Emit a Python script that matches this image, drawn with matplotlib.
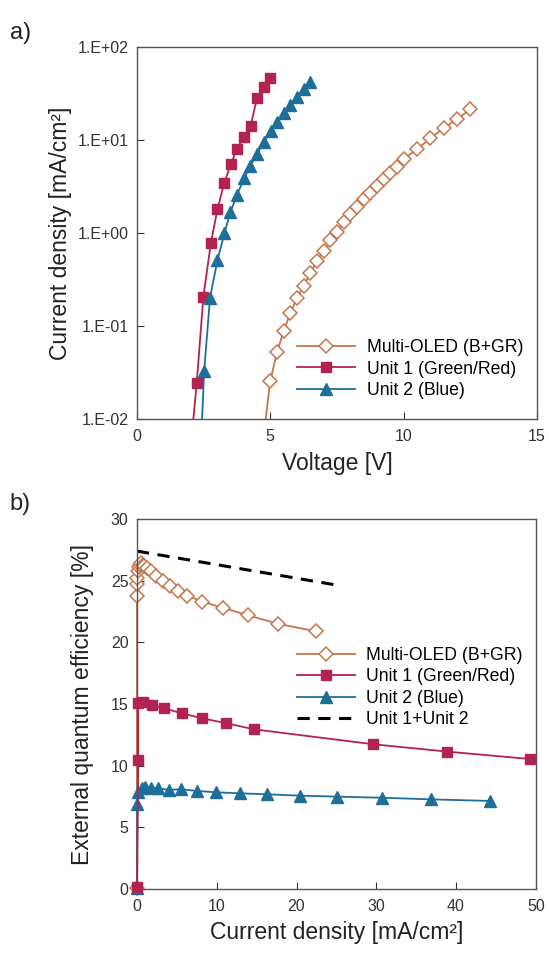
import matplotlib.pyplot as plt
from matplotlib.ticker import FuncFormatter, FixedLocator
import numpy as np

plt.rcParams['font.family'] = ['Liberation Sans', 'DejaVu Sans']

# colours
c_multi = '#c4764c'
c_unit1 = '#b3234f'
c_unit2 = '#1d6f99'
c_spine = '#555555'

# a) J-V data  (voltage [V], current density [mA/cm2])
v_multi = [4.7, 5.0, 5.25, 5.5, 5.75, 6.0, 6.25, 6.5, 6.75, 7.0, 7.25, 7.5, 7.75, 8.0, 8.25,
           8.5, 8.75, 9.0, 9.25, 9.5, 9.75, 10.0, 10.5, 11.0, 11.5, 12.0, 12.5]
j_multi = [0.005, 0.0256, 0.052, 0.088, 0.137, 0.201, 0.271, 0.368, 0.50, 0.645, 0.84, 1.03,
           1.30, 1.60, 1.92, 2.30, 2.71, 3.23, 3.81, 4.45, 5.16, 6.2, 7.94, 10.4, 13.4, 16.7, 21.4]
v_unit1 = [2.0, 2.24, 2.49, 2.77, 3.02, 3.27, 3.52, 3.75, 4.0, 4.26, 4.5, 4.75, 5.0]
j_unit1 = [0.0045, 0.0242, 0.206, 0.775, 1.81, 3.42, 5.48, 8.0, 10.8, 14.1, 28.0, 36.9, 46.8]
v_unit2 = [2.38, 2.52, 2.74, 3.02, 3.28, 3.5, 3.75, 4.02, 4.25, 4.5, 4.77, 5.03, 5.25,
           5.5, 5.75, 6.0, 6.25, 6.5]
j_unit2 = [0.004, 0.0328, 0.201, 0.513, 0.99, 1.67, 2.56, 3.88, 5.25, 7.07, 9.6, 12.6, 15.7,
           19.7, 23.8, 28.8, 35.0, 42.4]

# b) EQE data (current density [mA/cm2], EQE [%])
jb_multi = [0.0, 0.0, 0.02, 0.05, 0.1, 0.2, 0.35, 0.5, 0.7, 0.9, 1.2, 1.7, 2.4, 3.2, 4.1,
            5.1, 6.3, 8.2, 10.8, 13.9, 17.7, 22.4]
eqe_multi = [0.1, 23.8, 24.7, 25.2, 25.8, 26.1, 26.3, 26.4, 26.3, 26.2, 26.0, 25.8, 25.4,
             25.0, 24.6, 24.2, 23.8, 23.3, 22.8, 22.2, 21.5, 20.9]
jb_unit1 = [0.0, 0.16, 0.16, 0.8, 1.84, 3.41, 5.59, 8.21, 11.2, 14.66, 29.6, 38.9, 49.3]
eqe_unit1 = [0.2, 10.5, 15.06, 15.19, 14.92, 14.66, 14.25, 13.84, 13.44, 12.95, 11.74, 11.14, 10.54]
jb_unit2 = [0.0, 0.04, 0.16, 0.59, 1.0, 1.71, 2.66, 4.0, 5.5, 7.54, 9.96, 12.9, 16.3, 20.4,
            25.1, 30.7, 36.9, 44.25]
eqe_unit2 = [0.1, 6.9, 7.9, 8.17, 8.25, 8.22, 8.17, 8.03, 8.09, 7.95, 7.84, 7.76, 7.68, 7.57,
             7.49, 7.4, 7.27, 7.14]
jb_sum = [0, 5, 10, 15, 20, 25]
eqe_sum = [27.4, 26.85, 26.3, 25.75, 25.2, 24.65]

fig = plt.figure(figsize=(5.49, 9.55), dpi=100)
ax1 = fig.add_axes([0.2495, 0.5613, 0.7285, 0.3895])
ax2 = fig.add_axes([0.2495, 0.0691, 0.7265, 0.3874])

lw = 1.3
multi_kw = dict(color=c_multi, lw=lw, marker='D', ms=7.5, mfc='white', mec=c_multi, mew=1.1)
unit1_kw = dict(color=c_unit1, lw=lw, marker='s', ms=7)
unit2_kw = dict(color=c_unit2, lw=lw, marker='^', ms=8)
leg_kw = dict(frameon=False, fontsize=12.7, handlelength=3.3, handletextpad=0.65,
              labelspacing=0.26, borderpad=0, borderaxespad=0, loc='upper left')

ax1.plot(v_multi, j_multi, label='Multi-OLED (B+GR)', **multi_kw)
ax1.plot(v_unit1, j_unit1, label='Unit 1 (Green/Red)', **unit1_kw)
ax1.plot(v_unit2, j_unit2, label='Unit 2 (Blue)', **unit2_kw)
ax1.set_yscale('log')
ax1.set_xlim(0, 15)
ax1.set_ylim(0.01, 100)
ax1.yaxis.set_major_locator(FixedLocator([0.01, 0.1, 1, 10, 100]))
ax1.yaxis.set_minor_locator(FixedLocator([]))
ax1.yaxis.set_major_formatter(FuncFormatter(lambda v, p: '1.E%+03d' % round(np.log10(v))))
ax1.set_xticks([0, 5, 10, 15])
ax1.set_xlabel('Voltage [V]', fontsize=16.5, labelpad=6, color='#222222')
ax1.set_ylabel('Current density [mA/cm²]', fontsize=16.5, labelpad=4, color='#222222')
ax1.legend(bbox_to_anchor=(0.4, 0.215), **leg_kw)

ax2.plot(jb_sum, eqe_sum, color='black', lw=2.2, ls=(0, (4, 2.8)), label='Unit 1+Unit 2',
         zorder=2)
ax2.plot(jb_unit2, eqe_unit2, label='Unit 2 (Blue)', zorder=3, clip_on=False, **unit2_kw)
ax2.plot(jb_unit1, eqe_unit1, label='Unit 1 (Green/Red)', zorder=4, clip_on=False, **unit1_kw)
ax2.plot(jb_multi, eqe_multi, label='Multi-OLED (B+GR)', zorder=2.5, clip_on=False, **multi_kw)
ax2.set_xlim(0, 50)
ax2.set_ylim(0, 30)
ax2.set_xticks([0, 10, 20, 30, 40, 50])
ax2.set_yticks([0, 5, 10, 15, 20, 25, 30])
ax2.set_xlabel('Current density [mA/cm²]', fontsize=16.5, labelpad=5, color='#222222')
ax2.set_ylabel('External quantum efficiency [%]', fontsize=16.5, labelpad=12, color='#222222')
h, l = ax2.get_legend_handles_labels()
order = [3, 2, 1, 0]
ax2.legend([h[i] for i in order], [l[i] for i in order], bbox_to_anchor=(0.4, 0.655), **leg_kw)

for ax in (ax1, ax2):
    for s in ax.spines.values():
        s.set_color(c_spine)
        s.set_linewidth(1.0)
    ax.tick_params(direction='in', length=5, width=0.8, color='#333333',
                   labelsize=11.5, labelcolor='#333333', top=False, right=False)
    ax.tick_params(axis='x', pad=7)
    ax.tick_params(axis='y', pad=6)

fig.text(0.018, 0.977, 'a)', fontsize=17, va='top', color='#222222')
fig.text(0.018, 0.484, 'b)', fontsize=17, va='top', color='#222222')

fig.savefig('out.png', dpi=100)
